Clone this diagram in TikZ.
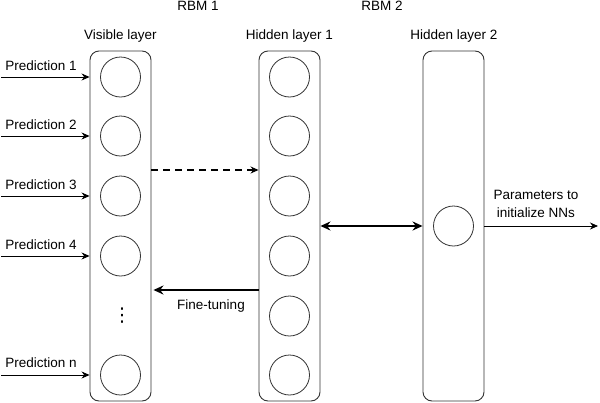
\documentclass[tikz,border=0pt]{standalone}
\usepackage{fontspec}
\setmainfont{Liberation Sans}
\newfontfamily\dejavu{DejaVu Sans}
\usetikzlibrary{arrows.meta,positioning}

\tikzset{
  layer/.style={draw=black!80, line width=0.9pt, rounded corners=9pt, minimum width=61pt, minimum height=350pt},
  unit/.style={draw=black!80, line width=0.8pt, circle, minimum size=40pt, inner sep=0pt},
  lbl/.style={font=\fontsize{13.5}{16}\selectfont, inner sep=0pt, anchor=base},
  arr/.style={-{Stealth[length=8pt,width=7pt]}, line width=0.8pt},
  bigarr/.style={-{Stealth[length=10pt,width=9pt]}, line width=1.6pt},
}

\begin{document}
\begin{tikzpicture}[x=1pt,y=-1pt]
\useasboundingbox (0,0) rectangle (600,402);

\node [layer] (vis)  at (120.5,226) {};
\node [layer] (hid1) at (289.5,226) {};
\node [layer] (hid2) at (453.5,226) {};

\foreach \i/\y in {1/77,2/136,3/196,4/256}
  \node [unit] (v\i) at (120.5,\y) {};
\node [unit] (vn) at (120.5,375) {};
\node [inner sep=0pt, font=\dejavu\fontsize{19}{21}\selectfont] (vdots) at (122,316) {⋮};

\foreach \i/\y in {1/77,2/136,3/196,4/256,5/316,6/375}
  \node [unit] (h\i) at (289.5,\y) {};
\node [unit] (z) at (453.5,226) {};

\node [lbl] (rbm1) at (198,10) {RBM 1};
\node [lbl] (rbm2) at (382,10) {RBM 2};
\node [lbl] (tvis)  at (120.5,39) {Visible layer};
\node [lbl] (thid1) at (289.5,39) {Hidden layer 1};
\node [lbl] (thid2) at (454,39) {Hidden layer 2};

\foreach \i/\t/\y in {1/1/70,2/2/129,3/3/189,4/4/249,n/n/367}{
  \node [lbl] (p\i) at (41,\y) {Prediction \t};
  \coordinate (in\i) at (1,0 |- v\i);
  \draw [arr] (in\i) -- (v\i -| vis.west);
}

\draw [arr, line width=1.3pt, dash pattern=on 7pt off 5pt] ([yshift=56pt]vis.east) -- ([yshift=56pt]hid1.west);
\draw [bigarr, shorten >=2pt] ([yshift=-64pt]hid1.west) -- ([yshift=-64pt]vis.east);
\node [lbl] (fine) at (211,309) {Fine-tuning};

\draw [line width=1.6pt, {Stealth[length=10pt,width=9pt]}-{Stealth[length=10pt,width=9pt]}] (hid1.east) -- (hid2.west);

\coordinate (out) at (598,226);
\draw [arr] (hid2.east) -- (out);
\node [lbl] (par1) at (536,199) {Parameters to};
\node [lbl] (par2) at (536,217) {initialize NNs};
\end{tikzpicture}
\end{document}
